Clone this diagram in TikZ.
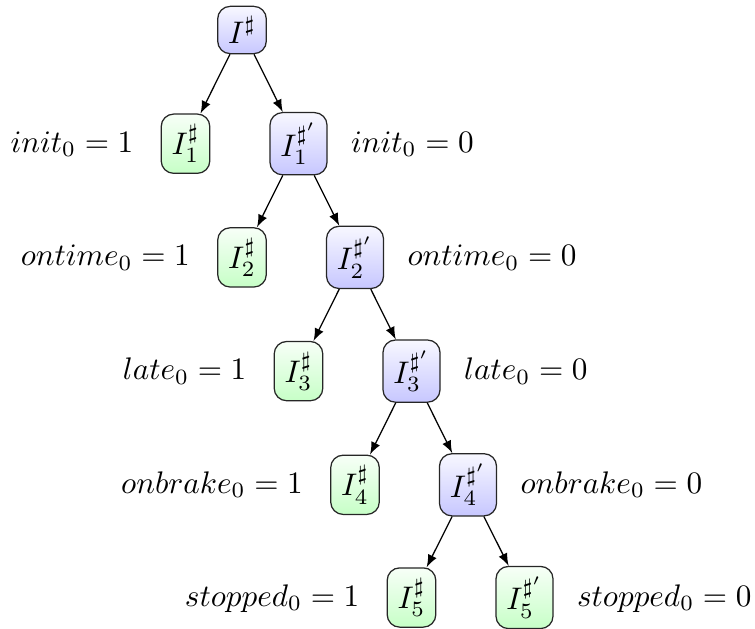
\documentclass[tikz,border=0pt]{standalone}
\usetikzlibrary{arrows}
\begin{document}
\begin{tikzpicture}[x=0.3205pt,y=-0.3205pt,
  box/.style={draw=black!85, rounded corners=4pt, inner sep=3.33pt, line width=0.4pt},
  bluebox/.style={box, top color=blue!3, bottom color=blue!22},
  greenbox/.style={box, top color=green!3, bottom color=green!22},
  arr/.style={-latex, line width=0.4pt},
  lablft/.style={inner sep=0pt, anchor=base east},
  labrgt/.style={inner sep=0pt, anchor=base west}]
\useasboundingbox (0,0) rectangle (755,628);
% nodes
\node[bluebox] (r) at (242,30) {$I^{\sharp}$};
\node[greenbox] (g1) at (185.5,143.7) {$I^{\sharp}_1$};
\node[bluebox] (b1) at (298.5,143.7) {$I^{\sharp'}_1$};
\node[greenbox] (g2) at (242,257.4) {$I^{\sharp}_2$};
\node[bluebox] (b2) at (355,257.4) {$I^{\sharp'}_2$};
\node[greenbox] (g3) at (298.5,371.1) {$I^{\sharp}_3$};
\node[bluebox] (b3) at (411.5,371.1) {$I^{\sharp'}_3$};
\node[greenbox] (g4) at (355,484.8) {$I^{\sharp}_4$};
\node[bluebox] (b4) at (468,484.8) {$I^{\sharp'}_4$};
\node[greenbox] (g5) at (411.5,597.5) {$I^{\sharp}_5$};
\node[greenbox] (b5) at (524.5,597.5) {$I^{\sharp'}_5$};
% edges
\draw[arr] (r) -- (g1);
\draw[arr] (r) -- (b1);
\draw[arr] (b1) -- (g2);
\draw[arr] (b1) -- (b2);
\draw[arr] (b2) -- (g3);
\draw[arr] (b2) -- (b3);
\draw[arr] (b3) -- (g4);
\draw[arr] (b3) -- (b4);
\draw[arr] (b4) -- (g5);
\draw[arr] (b4) -- (b5);
% labels
\node[lablft] (l1) at (134,152.2) {$init_0 = 1$};
\node[labrgt] (r1) at (350.5,152.2) {$init_0 = 0$};
\node[lablft] (l2) at (190.5,265.9) {$ontime_0 = 1$};
\node[labrgt] (r2) at (407,265.9) {$ontime_0 = 0$};
\node[lablft] (l3) at (247,379.6) {$late_0 = 1$};
\node[labrgt] (r3) at (463.5,379.6) {$late_0 = 0$};
\node[lablft] (l4) at (303.5,493.3) {$onbrake_0 = 1$};
\node[labrgt] (r4) at (520,493.3) {$onbrake_0 = 0$};
\node[lablft] (l5) at (360,606) {$stopped_0 = 1$};
\node[labrgt] (r5) at (576.5,606) {$stopped_0 = 0$};
\end{tikzpicture}
\end{document}
